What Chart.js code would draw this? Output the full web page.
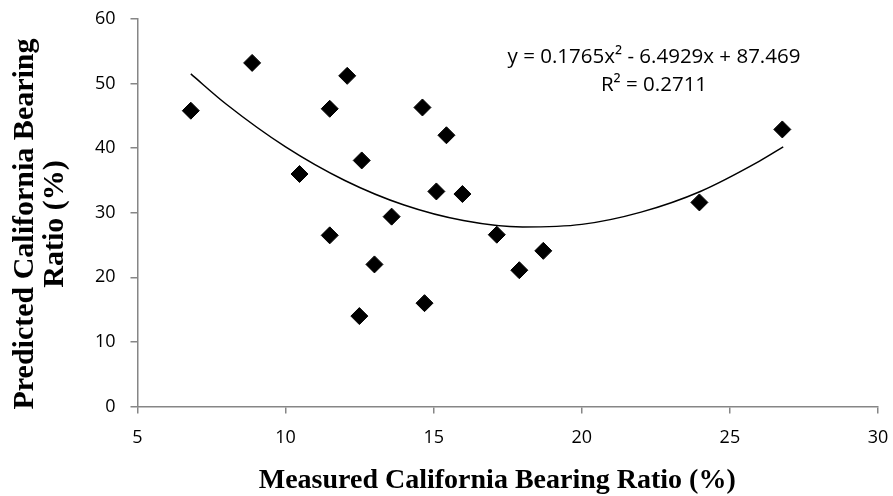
<!DOCTYPE html>
<html>
<head>
<meta charset="utf-8">
<script src="https://cdn.jsdelivr.net/npm/chart.js@4.4.1/dist/chart.umd.min.js"></script>
<style>
  html, body { margin: 0; padding: 0; background: #fff; }
</style>
</head>
<body>
<canvas id="cbrChart" width="893" height="496"></canvas>
<script>
// measured vs predicted CBR
const measured  = [6.80, 8.87, 12.08, 11.49, 14.62, 15.43, 12.57, 10.47, 15.09, 15.97,
                   11.49, 13.58, 13.00, 12.49, 14.69, 17.13, 23.97, 26.77, 18.70, 17.89];
const predicted = [45.8, 53.2, 51.2, 46.1, 46.3, 42.0, 38.1, 36.0, 33.3, 32.9,
                   26.5, 29.4, 22.0, 14.0, 16.0, 26.6, 31.6, 42.9, 24.1, 21.1];

// polynomial trendline as drawn
const trendX = [6.8, 8, 10, 12, 14, 16, 18, 20, 22, 24, 26, 26.8];
const trendY = [51.5, 46.8, 40.2, 35.0, 31.2, 28.8, 27.8, 28.2, 30.1, 33.3, 38.0, 40.2];

const xTicks = [5, 10, 15, 20, 25, 30];
const yTicks = [0, 10, 20, 30, 40, 50, 60];

const eqLines = ['y = 0.1765x\u00B2 - 6.4929x + 87.469', 'R\u00B2 = 0.2711'];

const axisGray = '#868686';

// equation label, Excel-style
const equationLabel = {
  id: 'equationLabel',
  afterDraw(chart) {
    const c = chart.ctx;
    c.save();
    c.fillStyle = '#000';
    c.font = '20.5px "Open Sans"';
    c.textAlign = 'center';
    c.textBaseline = 'middle';
    c.fillText(eqLines[0], 654, 57);
    c.fillText(eqLines[1], 654, 85);
    c.restore();
  }
};

const ctx = document.getElementById('cbrChart').getContext('2d');
const cbrChart = new Chart(ctx, {
  type: 'scatter',
  data: {
    datasets: [
      {
        label: 'Data',
        data: measured.map((x, i) => ({ x: x, y: predicted[i] })),
        pointStyle: 'rectRot',
        pointRadius: 8.5,
        pointBackgroundColor: '#000',
        pointBorderColor: '#000',
        pointBorderWidth: 1,
        showLine: false
      },
      {
        label: 'Poly. (Data)',
        data: trendX.map((x, i) => ({ x: x, y: trendY[i] })),
        showLine: true,
        borderColor: '#000',
        borderWidth: 1.5,
        pointRadius: 0,
        cubicInterpolationMode: 'monotone',
        fill: false
      }
    ]
  },
  options: {
    responsive: false,
    animation: false,
    layout: { padding: { top: 19, right: 15, left: 4, bottom: 0 } },
    plugins: {
      legend: { display: false },
      tooltip: { enabled: false }
    },
    scales: {
      x: {
        type: 'linear',
        min: 5,
        max: 30,
        afterBuildTicks: (axis) => { axis.ticks = xTicks.map(v => ({ value: v })); },
        afterFit: (axis) => {
          axis.height = 89.5;
          axis.paddingLeft = 0;
          axis.paddingRight = 0;
        },
        border: { display: true, color: axisGray, width: 1.5 },
        grid: { drawOnChartArea: false, drawTicks: true, tickLength: 7, color: axisGray, lineWidth: 1.5 },
        ticks: { color: '#000', font: { family: '"Open Sans"', size: 18 }, padding: 14, maxRotation: 0 },
        title: {
          display: true,
          // trailing nbsp shifts the centred title a bit left
          text: 'Measured California Bearing Ratio (%)\u00A0\u00A0\u00A0',
          color: '#000',
          font: { family: '"Liberation Serif"', size: 28, weight: 'bold', lineHeight: 1 },
          padding: { top: 0, bottom: 1 }
        }
      },
      y: {
        type: 'linear',
        min: 0,
        max: 60,
        afterBuildTicks: (axis) => { axis.ticks = yTicks.map(v => ({ value: v })); },
        afterFit: (axis) => {
          axis.width = 133.5;
          axis.paddingTop = 0;
          axis.paddingBottom = 0;
        },
        border: { display: true, color: axisGray, width: 1.5 },
        grid: { drawOnChartArea: false, drawTicks: true, tickLength: 7, color: axisGray, lineWidth: 1.5 },
        ticks: { color: '#000', font: { family: '"Open Sans"', size: 18 }, padding: 15 },
        title: {
          display: true,
          // trailing nbsp nudges the rotated title down like the original
          text: ['Predicted California Bearing\u00A0\u00A0\u00A0', 'Ratio (%)\u00A0\u00A0\u00A0'],
          color: '#000',
          font: { family: '"Liberation Serif"', size: 30, weight: 'bold', lineHeight: 1 },
          padding: { top: 6, bottom: 0 }
        }
      }
    }
  },
  plugins: [equationLabel]
});
</script>
</body>
</html>
